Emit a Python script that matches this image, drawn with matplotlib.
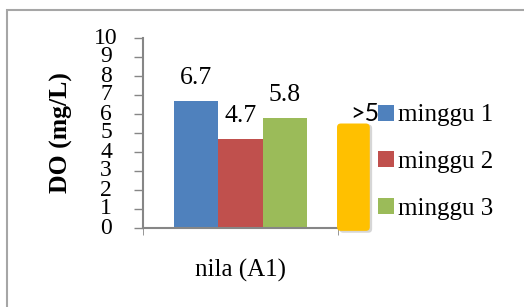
import matplotlib.pyplot as plt
from matplotlib.patches import FancyBboxPatch, Rectangle

plt.rcParams['font.family'] = ['Liberation Serif', 'DejaVu Serif']

category = "nila (A1)"
series = ["minggu 1", "minggu 2", "minggu 3"]
values = [6.7, 4.7, 5.8]
colors = ["#4F81BD", "#C0504D", "#9BBB59"]
standard_label = ">5"
standard_value = 5.5

fig = plt.figure(figsize=(5.24, 3.07), dpi=100)
# outer chart frame
fig.patches.append(Rectangle((7 / 524, -0.05), 1.1, 1 - 10 / 307 + 0.05,
                             transform=fig.transFigure, fill=False,
                             edgecolor="#A6A6A6", linewidth=1.5))

ax = fig.add_axes([143 / 524, 79 / 307, 195 / 524, 190 / 307])
w = 0.227
offsets = [-w, 0, w]
bars = []
for s, v, c, o in zip(series, values, colors, offsets):
    b = ax.bar(0.5 + o, v, width=w, color=c, label=s)
    bars.append(b)
    ax.text(0.5 + o, v + 1.2, f"{v}", ha="center", va="center", fontsize=18.5)

ax.set_xlim(0, 1)
ax.set_ylim(0, 10)
ax.set_yticks(range(0, 11))
ax.tick_params(axis="y", direction="out", length=6.5, width=1, color="#868686",
               labelsize=17, pad=20)
for t in ax.get_yticklabels():
    t.set_horizontalalignment("center")
    t.set_verticalalignment("center")
ax.set_xticks([0.5])
ax.set_xticklabels([category], fontsize=18)
ax.tick_params(axis="x", length=0, pad=22)
ax.set_xticks([0, 1], minor=True)
ax.tick_params(axis="x", which="minor", direction="out", length=5, color="#868686")
for side in ["top", "right"]:
    ax.spines[side].set_visible(False)
for side in ["left", "bottom"]:
    ax.spines[side].set_color("#868686")
    ax.spines[side].set_linewidth(1.5)

ax.set_ylabel("DO (mg/L)", fontsize=18.5, fontweight="bold")
ax.yaxis.set_label_coords(-0.36, 0.5)

# standard marker bar (drawn over the axis end)
x0, x1 = 0.995, 1.163
shadow = FancyBboxPatch((x0 + 0.012, -0.25), x1 - x0, standard_value + 0.2,
                        boxstyle="round,pad=0,rounding_size=0.02",
                        mutation_aspect=10, facecolor="#BBBBBB", edgecolor="none",
                        alpha=0.6, clip_on=False, zorder=4)
ax.add_patch(shadow)
marker = FancyBboxPatch((x0, -0.15), x1 - x0, standard_value + 0.15,
                        boxstyle="round,pad=0,rounding_size=0.02",
                        mutation_aspect=10, facecolor="#FFC000", edgecolor="none",
                        clip_on=False, zorder=5)
ax.add_patch(marker)
ax.text(1.135, 6.05, standard_label, ha="center", va="center",
        fontsize=18, family=["Lato", "DejaVu Sans"], zorder=6, clip_on=False)

leg = fig.legend(handles=bars, labels=series, loc="center left",
                 bbox_to_anchor=(378 / 524, 1 - 162 / 307), frameon=False,
                 fontsize=18, handlelength=0.62, handleheight=0.62,
                 handletextpad=0.2, labelspacing=0.98, borderaxespad=0,
                 borderpad=0)

fig.savefig("out.png", dpi=100)
